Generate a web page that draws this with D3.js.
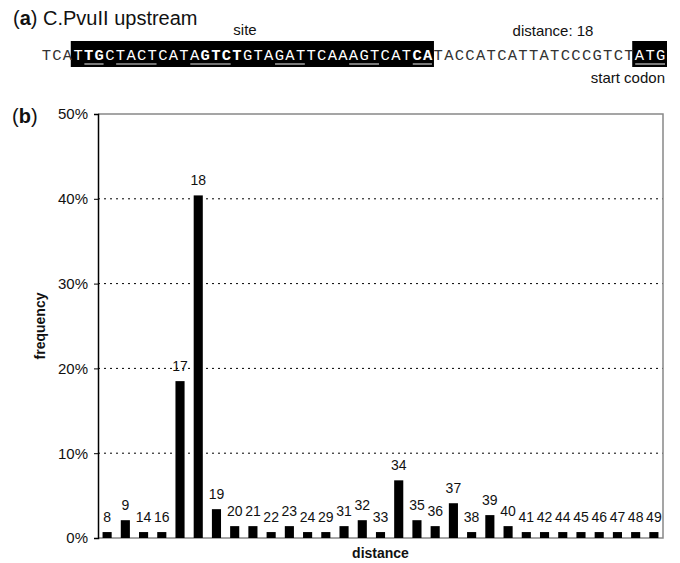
<!DOCTYPE html>
<html>
<head>
<meta charset="utf-8">
<script src="https://cdn.jsdelivr.net/npm/d3@7"></script>
<style>
  body { margin: 0; background: #fff; }
  svg text { font-family: "Liberation Sans", Arial, sans-serif; }
</style>
</head>
<body>
<div id="chart"></div>
<script>
// distance values and frequency (%) of each
const distances = ["8","9","14","16","17","18","19","20","21","22","23","24","29","31","32","33",
                   "34","35","36","37","38","39","40","41","42","44","45","46","47","48","49"];
const freqs = [0.7,2.1,0.7,0.7,18.5,40.4,3.4,1.4,1.4,0.7,1.4,0.7,0.7,1.4,2.1,0.7,
               6.8,2.1,1.4,4.1,0.7,2.7,1.4,0.7,0.7,0.7,0.7,0.7,0.7,0.7,0.7];
const yTicks = [0,10,20,30,40,50];

// upstream sequence of C.PvuII, with marked stretches (char index ranges, end exclusive)
const sequence = "TCATTGCTACTCATAGTCTGTAGATTCAAAGTCATCATACCATCATTATCCCGTCTATG";
const boxed = [[3,37],[56,59]];
const boldRuns = [[4,6],[15,19],[35,37]];
const underlined = [[4,6],[7,11],[14,18],[22,25],[29,32],[35,37],[56,59]];

const width = 680, height = 563;
const margin = {top: 114, right: 17, bottom: 25, left: 98};

const svg = d3.select("#chart").append("svg")
    .attr("width", width)
    .attr("height", height);

// ---- (a) sequence panel ----
const title = svg.append("text").attr("x", 13).attr("y", 25).attr("font-size", "20px").attr("fill", "#111");
title.append("tspan").text("(");
title.append("tspan").attr("font-weight", "bold").text("a");
title.append("tspan").text(") C.PvuII upstream");

const cx = d3.scaleLinear().domain([0, sequence.length]).range([41, 666]);
const inRun = (runs, i) => runs.some(r => i >= r[0] && i < r[1]);

svg.selectAll("rect.box")
  .data(boxed)
  .enter().append("rect")
    .attr("class", "box")
    .attr("x", d => cx(d[0]) - 2)
    .attr("width", d => cx(d[1]) - cx(d[0]) + 3)
    .attr("y", 41)
    .attr("height", 26)
    .attr("fill", "#000");

svg.selectAll("text.nt")
  .data(sequence.split(""))
  .enter().append("text")
    .attr("class", "nt")
    .attr("x", (d, i) => (cx(i) + cx(i + 1)) / 2)
    .attr("y", 60)
    .attr("text-anchor", "middle")
    .style("font-family", "'Liberation Mono', 'Courier New', monospace")
    .attr("font-size", "15.5px")
    .attr("font-weight", (d, i) => inRun(boldRuns, i) ? "bold" : "normal")
    .attr("fill", (d, i) => inRun(boxed, i) ? "#fff" : "#333")
    .text(d => d);

svg.selectAll("line.ul")
  .data(underlined)
  .enter().append("line")
    .attr("class", "ul")
    .attr("x1", d => cx(d[0]) + 1)
    .attr("x2", d => cx(d[1]) - 1)
    .attr("y1", 64).attr("y2", 64)
    .attr("stroke", "#999")
    .attr("stroke-width", 1.6);

svg.append("text").attr("x", 245).attr("y", 35).attr("text-anchor", "middle")
   .attr("font-size", "15px").attr("fill", "#111").text("site");
svg.append("text").attr("x", 553).attr("y", 36).attr("text-anchor", "middle")
   .attr("font-size", "15px").attr("fill", "#111").text("distance: 18");
svg.append("text").attr("x", 665).attr("y", 83).attr("text-anchor", "end")
   .attr("font-size", "15px").attr("fill", "#111").text("start codon");

// ---- (b) histogram ----
const lb = svg.append("text").attr("x", 12).attr("y", 123).attr("font-size", "20px").attr("fill", "#111");
lb.append("tspan").text("(");
lb.append("tspan").attr("font-weight", "bold").text("b");
lb.append("tspan").text(")");

const x = d3.scaleBand()
    .domain(distances)
    .range([margin.left, width - margin.right])
    .paddingInner(0.5)
    .paddingOuter(0.25);

const y = d3.scaleLinear()
    .domain([0, 50])
    .range([height - margin.bottom, margin.top]);

// gridlines
svg.append("g")
  .selectAll("line")
  .data(yTicks.filter(t => t > 0 && t < 50))
  .enter().append("line")
    .attr("x1", margin.left).attr("x2", width - margin.right)
    .attr("y1", d => y(d)).attr("y2", d => y(d))
    .attr("stroke", "#000")
    .attr("stroke-width", 1)
    .attr("stroke-dasharray", "2,4");

// frame: top, right, bottom in gray
svg.append("path")
    .attr("d", `M${margin.left},${y(50)}H${width - margin.right}V${y(0)}H${margin.left}`)
    .attr("fill", "none")
    .attr("stroke", "#888")
    .attr("stroke-width", 1.5);

// y axis
const yAxis = svg.append("g")
    .attr("transform", `translate(${margin.left},0)`)
    .call(d3.axisLeft(y).tickValues(yTicks).tickFormat(d => d + "%").tickSizeOuter(0).tickSize(4).tickPadding(6));
yAxis.select(".domain").attr("stroke", "#000").attr("stroke-width", 1.5);
yAxis.selectAll("text").attr("font-size", "15px").attr("fill", "#111")
     .style("font-family", "'Liberation Sans', Arial, sans-serif");

// bars
svg.append("g")
  .selectAll("rect")
  .data(freqs)
  .enter().append("rect")
    .attr("x", (d, i) => x(distances[i]))
    .attr("width", x.bandwidth())
    .attr("y", d => y(d))
    .attr("height", d => y(0) - y(d))
    .attr("fill", "#000");

// bar labels
svg.append("g")
  .selectAll("text")
  .data(freqs)
  .enter().append("text")
    .attr("x", (d, i) => x(distances[i]) + x.bandwidth() / 2)
    .attr("y", d => y(d) - 10)
    .attr("text-anchor", "middle")
    .attr("font-size", "14px")
    .attr("fill", "#111")
    .text((d, i) => distances[i]);

// axis titles
svg.append("text")
    .attr("transform", `translate(45,${(y(0) + y(50)) / 2}) rotate(-90)`)
    .attr("text-anchor", "middle")
    .attr("font-size", "14px")
    .attr("font-weight", "bold")
    .attr("fill", "#111")
    .text("frequency");

svg.append("text")
    .attr("x", (margin.left + width - margin.right) / 2)
    .attr("y", 558)
    .attr("text-anchor", "middle")
    .attr("font-size", "14px")
    .attr("font-weight", "bold")
    .attr("fill", "#111")
    .text("distance");
</script>
</body>
</html>
